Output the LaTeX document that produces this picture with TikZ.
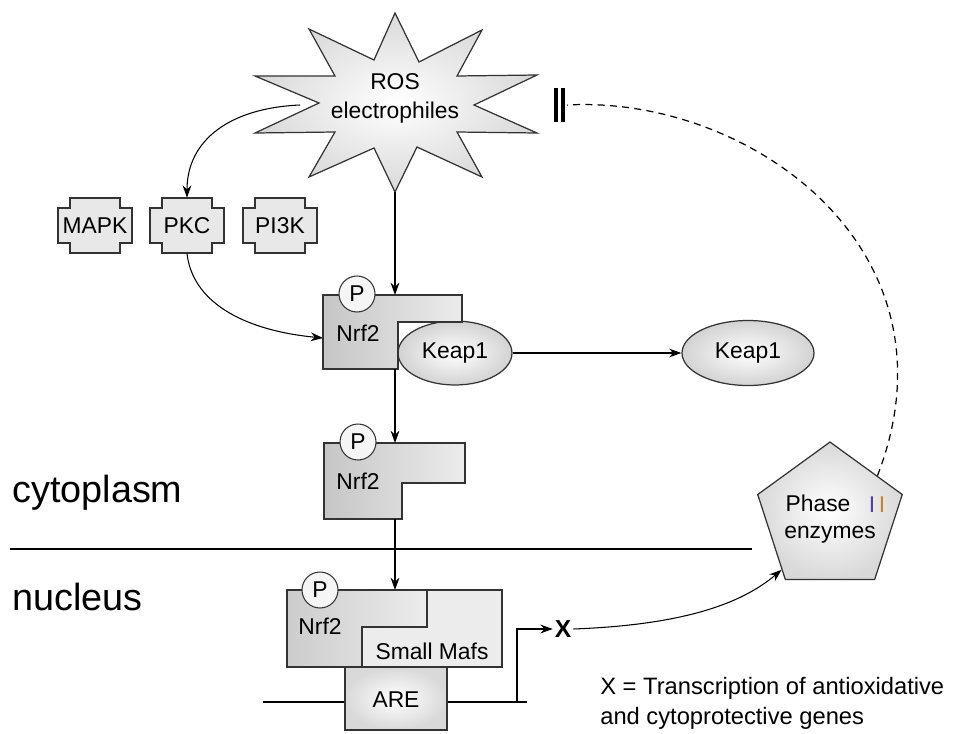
\documentclass[tikz,border=0pt]{standalone}
\usepackage{fontspec}
\setmainfont{Liberation Sans}
\usetikzlibrary{arrows.meta,shapes.geometric,calc}

\definecolor{romana}{RGB}{90,60,170}
\definecolor{romanb}{RGB}{200,130,40}

\tikzset{
  prot/.style={draw=black!80, line width=0.7pt},
  lbl/.style={font=\fontsize{13}{16.5}\selectfont, inner sep=0pt},
  big/.style={font=\fontsize{21.5}{25}\selectfont, inner sep=0pt},
  arr/.style={-{Stealth[length=7pt,width=5pt]}, line width=0.6pt},
  phos/.style={circle, draw=black!80, fill=gray!8, line width=0.6pt,
    minimum size=0.72cm, inner sep=0pt, font=\fontsize{13}{16}\selectfont},
  keap/.style={ellipse, prot, inner color=white, outer color=gray!35,
    inner sep=0pt, font=\fontsize{13}{16}\selectfont},
  kinbox/.style={minimum width=1.46cm, minimum height=1.1cm, inner sep=0pt,
    font=\fontsize{13}{16}\selectfont}
}

\begin{document}
\begin{tikzpicture}[x=0.02cm, y=-0.02cm]
\useasboundingbox (0,0) rectangle (954,734);

% ROS star
\draw[prot, inner color=white, outer color=gray!30]
  (395,13) -- (419,62) -- (482,30) -- (457,76) -- (537,75) -- (474,105)
  -- (537,133) -- (457,132) -- (482,177) -- (417,147) -- (395,192)
  -- (374,148) -- (309,177) -- (335,132) -- (255,133) -- (319,103)
  -- (255,76) -- (335,76) -- (309,29) -- (374,60) -- cycle;
\node[lbl, align=center] (ros) at (395,98) {ROS\\electrophiles};
\coordinate (ros tip) at (395,192);
\coordinate (ros left) at (300,105);

% kinases
\foreach \x/\nm/\txt in {95/mapk/MAPK, 187/pkc/PKC, 280/pik/PI3K} {
  \draw[prot, fill=gray!18] (\x-25,198) -- (\x+25,198) -- (\x+25,208)
    -- (\x+37,208) -- (\x+37,243) -- (\x+25,243) -- (\x+25,253)
    -- (\x-25,253) -- (\x-25,243) -- (\x-37,243) -- (\x-37,208)
    -- (\x-25,208) -- cycle;
  \node[kinbox] (\nm) at (\x,225.5) {\txt};
}

% Nrf2 - Keap1 complex
\node[keap, minimum width=2.28cm, minimum height=1.28cm] (keap in) at (455,353) {Keap1};
\draw[prot, left color=gray!45, right color=gray!15]
  (323,295) -- (462,295) -- (462,322) -- (398,322) -- (398,369) -- (323,369) -- cycle;
\node[lbl] (nrf a) at (358,333) {Nrf2};
\node[phos] (p a) at (357,294) {P};
\coordinate (nrf a top) at (395,295);
\coordinate (nrf a bot) at (395,369);
\coordinate (nrf a left) at (323,338);

\node[keap, minimum width=2.64cm, minimum height=1.3cm] (keap out) at (748,353) {Keap1};

% free Nrf2
\draw[prot, left color=gray!45, right color=gray!15]
  (324,443) -- (465,443) -- (465,483) -- (402,483) -- (402,519) -- (324,519) -- cycle;
\node[lbl] (nrf b) at (358,481) {Nrf2};
\node[phos] (p b) at (358,442) {P};
\coordinate (nrf b top) at (395,443);
\coordinate (nrf b bot) at (395,519);

% compartments
\coordinate (sep l) at (10,549);
\coordinate (sep r) at (752,549);
\draw[line width=0.8pt] (sep l) -- (sep r);
\node[big, anchor=west] (cyto) at (12,493) {cytoplasm};
\node[big, anchor=west] (nuc) at (12,597) {nucleus};

% nuclear complex on DNA
\coordinate (dna l) at (263,702);
\coordinate (dna r) at (527,702);
\draw[line width=0.6pt] (dna l) -- (dna r);
\draw[prot, fill=gray!15] (362,590) rectangle (502,667);
\draw[prot, left color=gray!40, right color=gray!15]
  (287,590) -- (427,590) -- (427,627) -- (362,627) -- (362,667) -- (287,667) -- cycle;
\node[lbl] (nrf c) at (320,626) {Nrf2};
\node[lbl] (mafs) at (432,651) {Small Mafs};
\node[phos] (p c) at (320,590) {P};
\draw[prot, inner color=white, outer color=gray!30] (345,667) rectangle (447,730);
\node[lbl] (are) at (396,700) {ARE};
\coordinate (nrf c top) at (395,590);
\coordinate (dna out) at (517,702);
\node[lbl, font=\fontsize{14}{16}\selectfont\bfseries] (gene) at (563,629) {X};

% phase II enzymes
\node[regular polygon, regular polygon sides=5, prot, minimum size=3.04cm,
  inner sep=0pt, inner color=white, outer color=gray!30] (phase) at (830,518) {};
\node[lbl] (phase t) at (818,503) {Phase};
\node[lbl] (enz) at (830,535) {enzymes};
\node[lbl] (two) at (877,505) {\textcolor{romana}{I}\,\textcolor{romanb}{I}};

% inhibition bar
\draw[line width=2pt] (556,88) -- (556,122);
\draw[line width=2pt] (563,88) -- (563,122);
\coordinate (stop) at (567,105);

% legend
\node[lbl, anchor=west, align=left, font=\fontsize{13.5}{17}\selectfont] (legend) at (600,703)
  {X = Transcription of antioxidative\\and cytoprotective genes};

% connectors
\draw[arr] (ros tip) -- (nrf a top);
\draw[arr] (ros left) .. controls (230,108) and (187,140) .. (pkc.north);
\draw[arr] (pkc.south) .. controls (192,300) and (240,330) .. (nrf a left);
\draw[arr] (keap in.east) -- (keap out.west);
\draw[arr] (nrf a bot) -- (nrf b top);
\draw[arr] (nrf b bot) -- (nrf c top);
\draw[arr] (dna out) |- ([xshift=-1pt]gene.west);
\draw[arr] ([xshift=1pt]gene.east) .. controls (680,625) and (740,605) .. ($(phase.corner 2)!0.88!(phase.corner 3)$);
\draw[dashed, dash pattern=on 4pt off 3pt, line width=0.7pt]
  ($(phase.corner 1)!0.65!(phase.corner 5)$) .. controls (965,250) and (750,95) .. (stop);
\end{tikzpicture}
\end{document}
